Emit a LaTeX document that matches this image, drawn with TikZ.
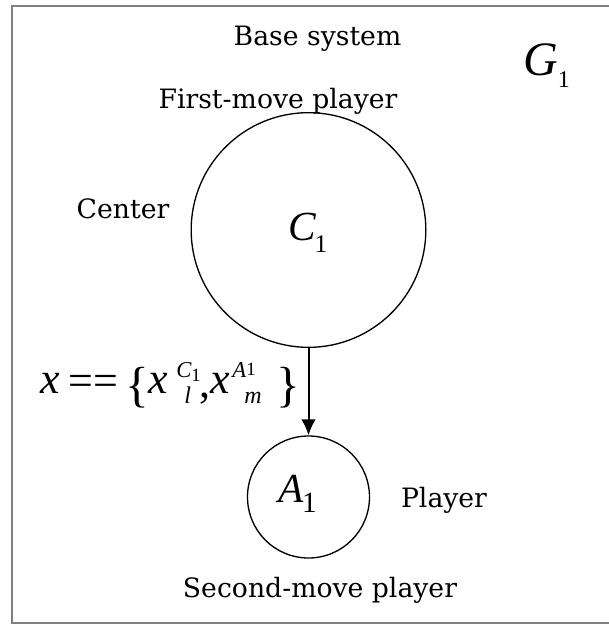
\documentclass[tikz,border=0pt]{standalone}
\usepackage{fontspec}
\setmainfont{DejaVu Serif}
\newfontfamily\tms{Liberation Serif}
\newfontfamily\tmsit{Liberation Serif Italic}
\usetikzlibrary{arrows.meta}
\newcommand\mfs[1]{\tms\fontsize{#1}{#1}\selectfont}
\newcommand\mfi[1]{\tmsit\fontsize{#1}{#1}\selectfont}
\begin{document}
\begin{tikzpicture}[x=0.75pt,y=-0.75pt,
  frame/.style={draw=black!50,line width=1.8pt},
  circ/.style={draw,circle,line width=1pt,inner sep=0pt},
  arr/.style={-{Latex[length=12pt,width=11pt]},line width=1.5pt},
  lbl/.style={font=\fontsize{20}{24}\selectfont,anchor=base,inner sep=0pt},
  mt/.style={anchor=base west,inner sep=0pt}]
\useasboundingbox (0,0) rectangle (608,625);
\draw[frame] (12,6) rectangle (616,623);
% circles
\node[circ,minimum size=176pt] (C1) at (308.5,230) {};
\node[circ,minimum size=91.5pt] (A1) at (308.5,497) {};
\draw[arr] (C1.south) -- (A1.north);
% circle labels
\node[mt] (tC) at (288,240) {{\mfi{31}C}\kern-1pt\raisebox{-9pt}{\mfs{19}1}};
\node[mt] (tA) at (278,502) {{\mfi{31}A}\kern-1pt\raisebox{-7.5pt}{\mfs{22}1}};
\node[mt] (tG) at (523,75) {{\mfi{36}G}\kern0pt\raisebox{-9pt}{\mfs{18}1}};
% texts
\node[lbl] (base) at (317.5,45) {Base system};
\node[lbl] (first) at (278,108) {First-move player};
\node[lbl] (center) at (123,218) {Center};
\node[lbl] (player) at (444,507) {Player};
\node[lbl] (second) at (320,597) {Second-move player};
% formula
\node[mt] (fx1) at (40,393) {\mfi{33}x};
\node[mt] (feq) at (68,395) {\mfs{33}==};
\node[mt] (flb) at (125,401) {\mfs{37}\{};
\node[mt] (fx2) at (148,393) {\mfi{33}x};
\node[mt] (fC) at (176,377) {\mfi{17}C};
\node[mt] (fC1) at (191,381) {\mfs{14}1};
\node[mt] (fl) at (184,403) {\mfi{18}l};
\node[mt] (fcm) at (199,397) {\mfs{33},};
\node[mt] (fx3) at (210,393) {\mfi{33}x};
\node[mt] (fA) at (232,377) {\mfi{17}A};
\node[mt] (fA1) at (246,375) {\mfs{14}1};
\node[mt] (fm) at (244,403) {\mfi{18}m};
\node[mt] (frb) at (276,401) {\mfs{37}\}};
\end{tikzpicture}
\end{document}
